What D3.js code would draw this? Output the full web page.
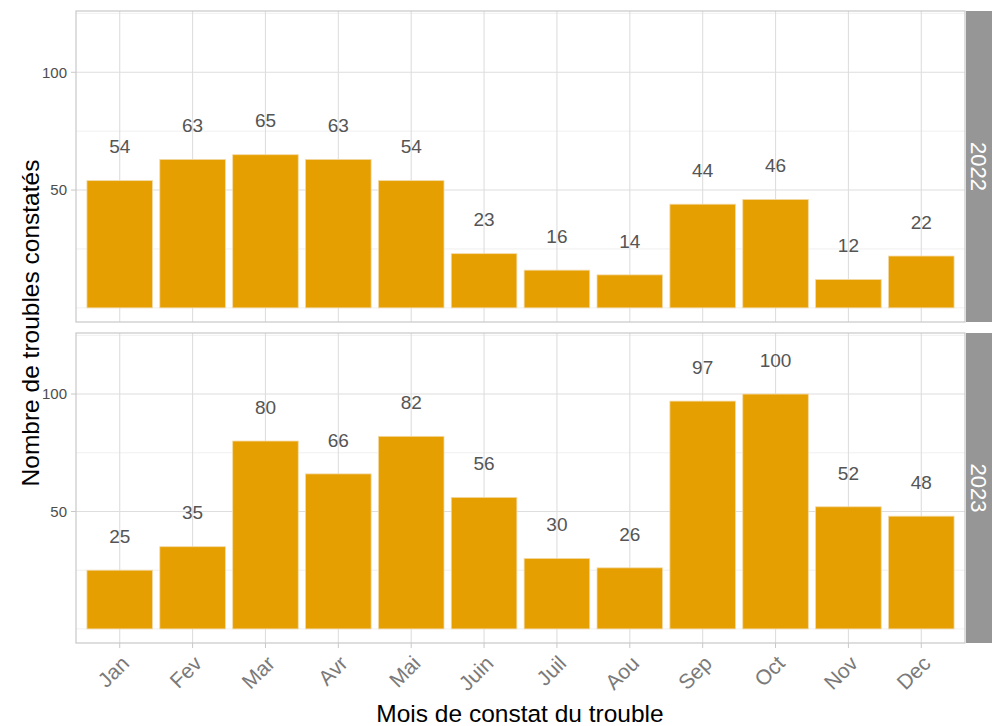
<!DOCTYPE html>
<html><head><meta charset="utf-8">
<script src="https://cdn.jsdelivr.net/npm/d3@7"></script>
<style>body{margin:0;background:#fff}svg{display:block}</style>
</head><body>
<svg id="c" width="992" height="726"></svg>
<script>
const months = ["Jan","Fev","Mar","Avr","Mai","Juin","Juil","Aou","Sep","Oct","Nov","Dec"];
const years = ["2022","2023"];
const values2022 = [54,63,65,63,54,23,16,14,44,46,12,22];
const values2023 = [25,35,80,66,82,56,30,26,97,100,52,48];
const yTicks = [50,100];
const yMinor = [0,25,75,125];
const seriesByYear = [values2022, values2023];

const svg = d3.select("#c");
const font = "'Liberation Sans', Arial, Helvetica, sans-serif";
const left = 76, right = 965;
const panels = [{top:11,bottom:322},{top:333,bottom:643}];
const stripW = 40;

// band scale mimicking ggplot discrete expansion (0.6 units each side, bar width 0.9)
const x = d3.scaleBand().domain(months).range([left, right]).paddingInner(0.1).paddingOuter(0.15);
const xc = m => x(m) + x.bandwidth()/2;
const bw = x.bandwidth();

panels.forEach((p, pi) => {
  const y = d3.scaleLinear().domain([-6, 126]).range([p.bottom, p.top]);
  const g = svg.append("g");
  g.append("rect").attr("x",left).attr("y",p.top).attr("width",right-left).attr("height",p.bottom-p.top).attr("fill","#fff");
  g.selectAll(".mn").data(yMinor).join("line")
    .attr("x1",left).attr("x2",right).attr("y1",d=>y(d)).attr("y2",d=>y(d))
    .attr("stroke","#ececec").attr("stroke-width",0.8);
  g.selectAll(".mj").data(yTicks).join("line")
    .attr("x1",left).attr("x2",right).attr("y1",d=>y(d)).attr("y2",d=>y(d))
    .attr("stroke","#dedede").attr("stroke-width",1.1);
  g.selectAll(".vx").data(months).join("line")
    .attr("x1",d=>xc(d)).attr("x2",d=>xc(d)).attr("y1",p.top).attr("y2",p.bottom)
    .attr("stroke","#dedede").attr("stroke-width",1.1);
  const vals = seriesByYear[pi];
  g.selectAll(".bar").data(months).join("rect")
    .attr("x",d=>x(d)).attr("width",bw)
    .attr("y",(d,i)=>y(vals[i])).attr("height",(d,i)=>y(0)-y(vals[i]))
    .attr("fill","#E69F00").attr("stroke","#f3d9a6").attr("stroke-width",0.8);
  g.selectAll(".lbl").data(months).join("text")
    .attr("x",d=>xc(d)).attr("y",(d,i)=>y(vals[i]+14.5))
    .attr("text-anchor","middle").attr("dy","0.36em")
    .attr("font-family",font).attr("font-size",19).attr("fill","#555")
    .text((d,i)=>vals[i]);
  g.append("rect").attr("x",left).attr("y",p.top).attr("width",right-left).attr("height",p.bottom-p.top)
    .attr("fill","none").attr("stroke","#c8c8c8").attr("stroke-width",1.2);
  g.selectAll(".yt").data(yTicks).join("line")
    .attr("x1",left-5).attr("x2",left).attr("y1",d=>y(d)).attr("y2",d=>y(d))
    .attr("stroke","#c8c8c8").attr("stroke-width",1);
  g.selectAll(".ytl").data(yTicks).join("text")
    .attr("x",left-9).attr("y",d=>y(d)).attr("text-anchor","end").attr("dy","0.36em")
    .attr("font-family",font).attr("font-size",15).attr("fill","#4d4d4d").text(d=>d);
  g.append("rect").attr("x",right+1).attr("y",p.top).attr("width",stripW).attr("height",p.bottom-p.top).attr("fill","#969696");
  g.append("text").attr("transform",`translate(971,${(p.top+p.bottom)/2}) rotate(90)`)
    .attr("text-anchor","middle")
    .attr("font-family",font).attr("font-size",22).attr("fill","#fff").text(years[pi]);
});

const pb = panels[1].bottom;
svg.selectAll(".xt").data(months).join("line")
  .attr("x1",d=>xc(d)).attr("x2",d=>xc(d)).attr("y1",pb).attr("y2",pb+5)
  .attr("stroke","#c8c8c8").attr("stroke-width",1);
svg.selectAll(".xtl").data(months).join("text")
  .attr("transform",d=>`translate(${xc(d)},${pb+11}) rotate(-45)`)
  .attr("text-anchor","end").attr("dy","0.72em")
  .attr("font-family",font).attr("font-size",21).attr("fill","#7a7a7a").text(d=>d);

svg.append("text").attr("transform",`translate(30,323) rotate(-90)`)
  .attr("text-anchor","middle").attr("dy","0.36em")
  .attr("font-family",font).attr("font-size",24.5).attr("fill","#000").text("Nombre de troubles constatés");
svg.append("text").attr("x",520).attr("y",713)
  .attr("text-anchor","middle").attr("dy","0.36em")
  .attr("font-family",font).attr("font-size",24.5).attr("fill","#000").text("Mois de constat du trouble");
</script>
</body></html>
